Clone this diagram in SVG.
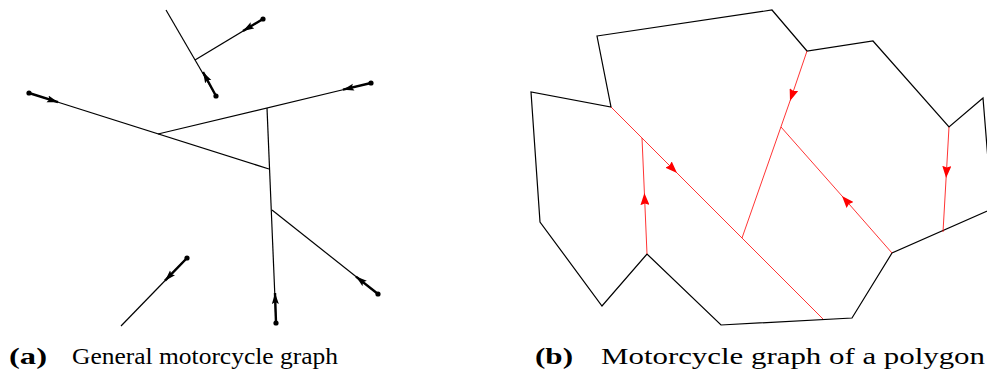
<svg xmlns="http://www.w3.org/2000/svg" width="987" height="374" viewBox="0 0 987 374">
<style>
.thin{stroke:#000;stroke-width:1.2;fill:none}
.thick{stroke:#000;stroke-width:2.4;fill:none}
.dot{fill:#000}
.poly{stroke:#000;stroke-width:1.2;fill:none;stroke-linejoin:miter}
.red{stroke:#ff0000;stroke-width:0.8;fill:none}
.cap{font-family:"Liberation Serif","DejaVu Serif",serif;font-size:23px;fill:#000}
.capb{font-family:"Liberation Serif","DejaVu Serif",serif;font-size:23px;font-weight:bold;fill:#000}
</style>
<defs>
<marker id="ab" markerUnits="userSpaceOnUse" markerWidth="12" markerHeight="8" refX="11" refY="3.5" orient="auto" viewBox="0 0 12 7">
<path d="M0,0 L11,3.5 L0,7 L2,3.5 z" fill="#000"/>
</marker>
<marker id="ar" markerUnits="userSpaceOnUse" markerWidth="13" markerHeight="9" refX="12" refY="4.5" orient="auto" viewBox="0 0 13 9">
<path d="M0,0 L12,4.5 L0,9 L1.5,4.5 z" fill="#ff0000"/>
</marker>
</defs>

<g id="panel-a">
<g id="connectors-a">
<line class="thin" x1="216" y1="96" x2="166" y2="10"/>
<line class="thin" x1="263" y1="19" x2="195" y2="60"/>
<line class="thin" x1="29" y1="93" x2="269" y2="169"/>
<line class="thin" x1="371" y1="83" x2="158" y2="134"/>
<line class="thin" x1="276" y1="323" x2="267" y2="108"/>
<line class="thin" x1="378" y1="294" x2="272" y2="210"/>
<line class="thin" x1="187" y1="258" x2="121" y2="326"/>
</g>
<g id="m1"><line class="thick" x1="216" y1="96" x2="203" y2="72" marker-end="url(#ab)"/><circle class="dot" cx="216" cy="96" r="2.6"/></g>
<g id="m2"><line class="thick" x1="263" y1="19" x2="243" y2="31" marker-end="url(#ab)"/><circle class="dot" cx="263" cy="19" r="2.6"/></g>
<g id="m3"><line class="thick" x1="29" y1="93" x2="58" y2="102.2" marker-end="url(#ab)"/><circle class="dot" cx="29" cy="93" r="2.6"/></g>
<g id="m4"><line class="thick" x1="371" y1="83" x2="343" y2="89.7" marker-end="url(#ab)"/><circle class="dot" cx="371" cy="83" r="2.6"/></g>
<g id="m5"><line class="thick" x1="276" y1="323" x2="275" y2="293" marker-end="url(#ab)"/><circle class="dot" cx="276" cy="323" r="2.6"/></g>
<g id="m6"><line class="thick" x1="378" y1="294" x2="356" y2="276.6" marker-end="url(#ab)"/><circle class="dot" cx="378" cy="294" r="2.6"/></g>
<g id="m7"><line class="thick" x1="187" y1="258" x2="165" y2="280.7" marker-end="url(#ab)"/><circle class="dot" cx="187" cy="258" r="2.6"/></g>
</g>

<g id="panel-b">
<g id="polygon">
<path class="poly" d="M597,36 L772,10 L807,51 L873,41 L949,127 L983,98 L992,209 L892,253 L852,318 L721,325 L647,254 L602,306 L540,222 L531,92 L611,107 Z"/>
</g>
<g id="connectors-b">
<path class="red" d="M611,107 L677,173 L823,319" marker-mid="url(#ar)"/>
<path class="red" d="M807,51 L790,101 L742,238" marker-mid="url(#ar)"/>
<path class="red" d="M892,253 L842,196 L781,127" marker-mid="url(#ar)"/>
<path class="red" d="M949,127 L946.1,178 L943,232" marker-mid="url(#ar)"/>
<path class="red" d="M647,254 L644.4,193 L642,138" marker-mid="url(#ar)"/>
</g>
</g>

<g id="captions">
<text class="capb" x="9" y="364" textLength="38" lengthAdjust="spacingAndGlyphs">(a)</text>
<text class="cap" x="72" y="364" textLength="266" lengthAdjust="spacingAndGlyphs">General motorcycle graph</text>
<text class="capb" x="535" y="364" textLength="38" lengthAdjust="spacingAndGlyphs">(b)</text>
<text class="cap" x="601" y="364" textLength="384" lengthAdjust="spacingAndGlyphs">Motorcycle graph of a polygon</text>
</g>
</svg>
